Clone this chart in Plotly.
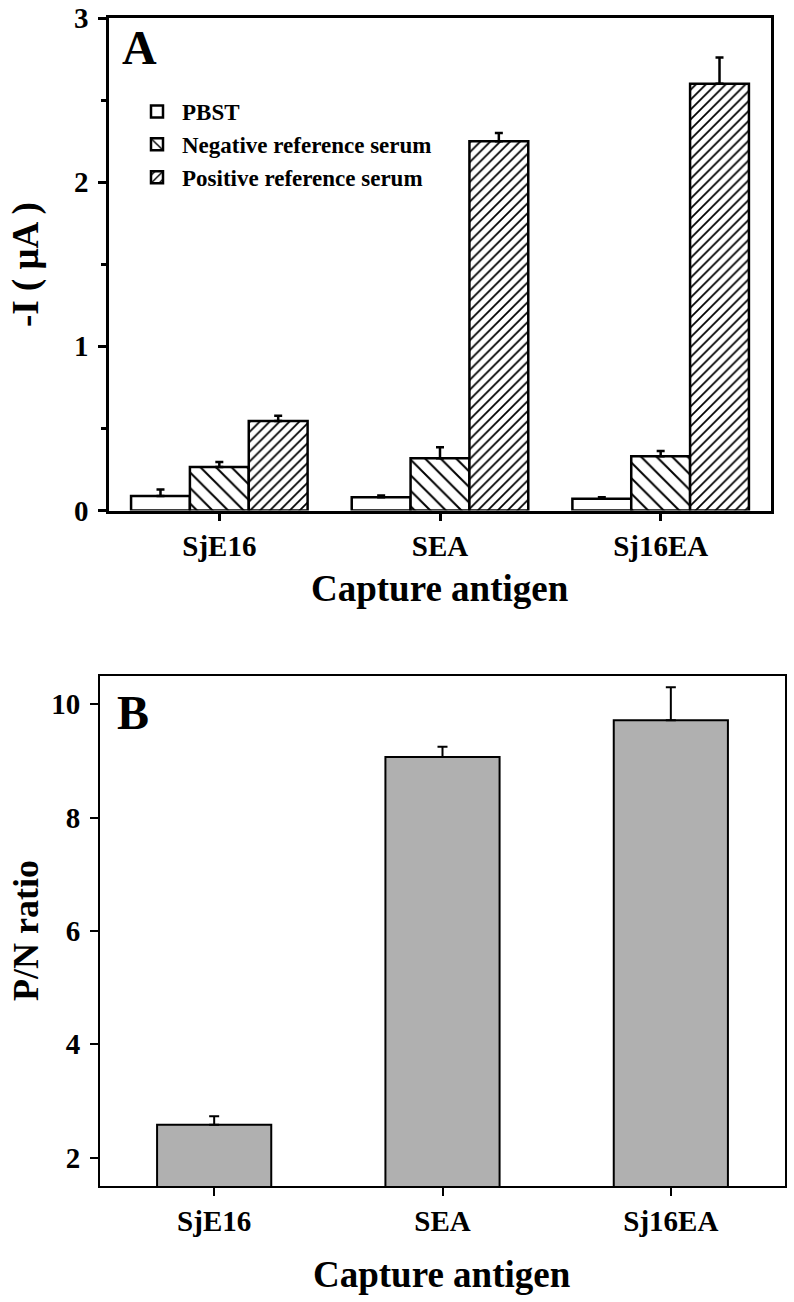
import plotly.graph_objects as go

# ---------------- data ----------------
categories = ["SjE16", "SEA", "Sj16EA"]

# Panel A: -I (uA)
pbst_vals = [0.088, 0.080, 0.072]
pbst_err = [0.040, 0.012, 0.008]
neg_vals = [0.265, 0.318, 0.330]
neg_err = [0.030, 0.067, 0.032]
pos_vals = [0.545, 2.250, 2.600]
pos_err = [0.032, 0.050, 0.160]

# Panel B: P/N ratio
pn_vals = [2.58, 9.07, 9.72]
pn_err = [0.15, 0.18, 0.58]

FONT = "Liberation Serif"
W, H = 794, 1302


def px_y(y):
    return 1 - y / H


def px_x(x):
    return x / W


fig = go.Figure()

# Panel A traces
fig.add_trace(go.Bar(
    x=categories, y=pbst_vals, name="PBST",
    marker=dict(color="white", line=dict(color="black", width=2.5)),
    error_y=dict(type="data", symmetric=False, array=pbst_err, arrayminus=[0, 0, 0],
                 color="black", thickness=2.5, width=4),
    xaxis="x", yaxis="y"))
fig.add_trace(go.Bar(
    x=categories, y=neg_vals, name="Negative reference serum",
    marker=dict(color="white", line=dict(color="black", width=2.5),
                pattern=dict(shape="\\", size=11, solidity=0.18, fgcolor="black",
                             bgcolor="white", fillmode="replace")),
    error_y=dict(type="data", symmetric=False, array=neg_err, arrayminus=[0, 0, 0],
                 color="black", thickness=2.5, width=4),
    xaxis="x", yaxis="y"))
fig.add_trace(go.Bar(
    x=categories, y=pos_vals, name="Positive reference serum",
    marker=dict(color="white", line=dict(color="black", width=2.5),
                pattern=dict(shape="/", size=7, solidity=0.25, fgcolor="black",
                             bgcolor="white", fillmode="replace")),
    error_y=dict(type="data", symmetric=False, array=pos_err, arrayminus=[0, 0, 0],
                 color="black", thickness=2.5, width=4),
    xaxis="x", yaxis="y"))

# Panel B trace
fig.add_trace(go.Bar(
    x=categories, y=pn_vals, name="P/N", showlegend=False, width=[0.5, 0.5, 0.5],
    marker=dict(color="#b0b0b0", line=dict(color="black", width=2)),
    error_y=dict(type="data", symmetric=False, array=pn_err, arrayminus=[0, 0, 0],
                 color="black", thickness=2, width=5),
    xaxis="x2", yaxis="y2"))

tickfont = dict(family=FONT, size=29, color="black", weight="bold")

axis_common = dict(showline=True, linecolor="black", mirror=True, ticks="outside",
                   tickcolor="black", showgrid=False, zeroline=False,
                   tickfont=tickfont, automargin=False)

fig.update_layout(
    width=W, height=H,
    margin=dict(l=0, r=0, t=0, b=0),
    paper_bgcolor="white", plot_bgcolor="white",
    barmode="group", bargap=0.2, bargroupgap=0,
    showlegend=True,
    legend=dict(x=px_x(132), y=px_y(90), xanchor="left", yanchor="top",
                bgcolor="rgba(0,0,0,0)", borderwidth=0,
                font=dict(family=FONT, size=23, color="black", weight="bold"),
                itemwidth=40, tracegroupgap=0),
    xaxis=dict(domain=[px_x(109), px_x(771)], anchor="y", range=[-0.5, 2.5],
               linewidth=2.5, ticklen=8, tickwidth=2.5, **axis_common),
    yaxis=dict(domain=[px_y(510.5), px_y(18)], anchor="x", range=[0, 3],
               tickvals=[0, 1, 2, 3], linewidth=2.5, ticklen=8, tickwidth=2.5,
               ticklabelstandoff=4,
               minor=dict(tickvals=[0.5, 1.5, 2.5], ticks="outside", ticklen=5,
                          tickwidth=2.5, tickcolor="black"),
               **axis_common),
    xaxis2=dict(domain=[px_x(100), px_x(785)], anchor="y2", range=[-0.5, 2.5],
                linewidth=2, ticklen=8, tickwidth=2, **axis_common),
    yaxis2=dict(domain=[px_y(1186), px_y(676)], anchor="x2", range=[1.5, 10.5],
                tickvals=[2, 4, 6, 8, 10], linewidth=2, ticklen=8, tickwidth=2,
                ticklabelstandoff=4,
                **axis_common),
)

title_font = dict(family=FONT, size=37, color="black", weight="bold")
ann = [
    dict(text="A", x=px_x(139), y=px_y(47), font=dict(family=FONT, size=48, color="black", weight="bold")),
    dict(text="B", x=px_x(133), y=px_y(712), font=dict(family=FONT, size=48, color="black", weight="bold")),
    dict(text="Capture antigen", x=px_x(440), y=px_y(589), font=title_font),
    dict(text="Capture antigen", x=px_x(442), y=px_y(1274), font=title_font),
    dict(text="-I ( μA )", x=px_x(26), y=px_y(265), textangle=-90,
         font=dict(family=FONT, size=37, color="black", weight="bold")),
    dict(text="P/N ratio", x=px_x(26), y=px_y(931), textangle=-90,
         font=dict(family=FONT, size=36, color="black", weight="bold")),
]
for a in ann:
    a.update(xref="paper", yref="paper", showarrow=False, xanchor="center", yanchor="middle")
fig.update_layout(annotations=ann)

fig.write_html("out.html", config={"displayModeBar": False},
               post_script="document.body.style.margin='0';")
